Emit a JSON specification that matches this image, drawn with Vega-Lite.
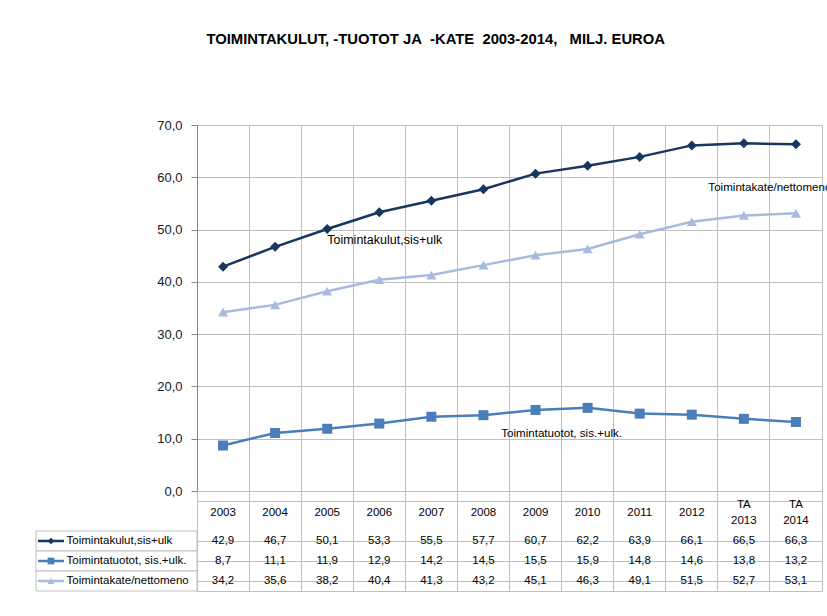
{
  "$schema": "https://vega.github.io/schema/vega-lite/v6.json",
  "padding": {"left": 35, "top": 31, "right": 6, "bottom": 20},
  "title": {
    "text": "TOIMINTAKULUT, -TUOTOT JA\u00a0 -KATE\u00a0 2003-2014,\u00a0\u00a0 MILJ. EUROA",
    "font": "Liberation Sans",
    "fontSize": 14.8,
    "fontWeight": "bold",
    "color": "#000000",
    "anchor": "middle",
    "dx": 2,
    "offset": 72
  },
  "config": {
    "font": "Liberation Sans",
    "locale": {"number": {"decimal": ",", "thousands": " ", "grouping": [3], "currency": ["", " €"]}},
    "view": {"stroke": "#BFBFBF"}
  },
  "datasets": {
    "d": [
      {"year": "2003", "series": "Toimintakulut,sis+ulk", "value": 42.9},
      {"year": "2004", "series": "Toimintakulut,sis+ulk", "value": 46.7},
      {"year": "2005", "series": "Toimintakulut,sis+ulk", "value": 50.1},
      {"year": "2006", "series": "Toimintakulut,sis+ulk", "value": 53.3},
      {"year": "2007", "series": "Toimintakulut,sis+ulk", "value": 55.5},
      {"year": "2008", "series": "Toimintakulut,sis+ulk", "value": 57.7},
      {"year": "2009", "series": "Toimintakulut,sis+ulk", "value": 60.7},
      {"year": "2010", "series": "Toimintakulut,sis+ulk", "value": 62.2},
      {"year": "2011", "series": "Toimintakulut,sis+ulk", "value": 63.9},
      {"year": "2012", "series": "Toimintakulut,sis+ulk", "value": 66.1},
      {"year": "TA\n2013", "series": "Toimintakulut,sis+ulk", "value": 66.5},
      {"year": "TA\n2014", "series": "Toimintakulut,sis+ulk", "value": 66.3},
      {"year": "2003", "series": "Toimintatuotot, sis.+ulk.", "value": 8.7},
      {"year": "2004", "series": "Toimintatuotot, sis.+ulk.", "value": 11.1},
      {"year": "2005", "series": "Toimintatuotot, sis.+ulk.", "value": 11.9},
      {"year": "2006", "series": "Toimintatuotot, sis.+ulk.", "value": 12.9},
      {"year": "2007", "series": "Toimintatuotot, sis.+ulk.", "value": 14.2},
      {"year": "2008", "series": "Toimintatuotot, sis.+ulk.", "value": 14.5},
      {"year": "2009", "series": "Toimintatuotot, sis.+ulk.", "value": 15.5},
      {"year": "2010", "series": "Toimintatuotot, sis.+ulk.", "value": 15.9},
      {"year": "2011", "series": "Toimintatuotot, sis.+ulk.", "value": 14.8},
      {"year": "2012", "series": "Toimintatuotot, sis.+ulk.", "value": 14.6},
      {"year": "TA\n2013", "series": "Toimintatuotot, sis.+ulk.", "value": 13.8},
      {"year": "TA\n2014", "series": "Toimintatuotot, sis.+ulk.", "value": 13.2},
      {"year": "2003", "series": "Toimintakate/nettomeno", "value": 34.2},
      {"year": "2004", "series": "Toimintakate/nettomeno", "value": 35.6},
      {"year": "2005", "series": "Toimintakate/nettomeno", "value": 38.2},
      {"year": "2006", "series": "Toimintakate/nettomeno", "value": 40.4},
      {"year": "2007", "series": "Toimintakate/nettomeno", "value": 41.3},
      {"year": "2008", "series": "Toimintakate/nettomeno", "value": 43.2},
      {"year": "2009", "series": "Toimintakate/nettomeno", "value": 45.1},
      {"year": "2010", "series": "Toimintakate/nettomeno", "value": 46.3},
      {"year": "2011", "series": "Toimintakate/nettomeno", "value": 49.1},
      {"year": "2012", "series": "Toimintakate/nettomeno", "value": 51.5},
      {"year": "TA\n2013", "series": "Toimintakate/nettomeno", "value": 52.7},
      {"year": "TA\n2014", "series": "Toimintakate/nettomeno", "value": 53.1}
    ]
  },
  "columns": 2,
  "spacing": 0,
  "bounds": "flush",
  "resolve": {"scale": {"x": "independent", "y": "independent"}},
  "concat": [
    {
      "width": 161,
      "height": 366,
      "view": {"stroke": null},
      "data": {"values": [{"a": 1}]},
      "mark": {"type": "point", "opacity": 0},
      "encoding": {}
    },
    {
      "width": 625,
      "height": 366,
      "data": {"name": "d"},
      "encoding": {
        "x": {
          "field": "year", "type": "nominal",
          "scale": {"type": "band", "domain": ["2003","2004","2005","2006","2007","2008","2009","2010","2011","2012","TA\n2013","TA\n2014"], "paddingInner": 0, "paddingOuter": 0},
          "axis": {"title": null, "labels": false, "ticks": false, "bandPosition": 0, "grid": true, "gridColor": "#BFBFBF", "domainColor": "#868686"}
        },
        "y": {
          "field": "value", "type": "quantitative",
          "scale": {"domain": [0, 70], "nice": false},
          "axis": {"title": null, "values": [0,10,20,30,40,50,60,70], "format": ".1f", "grid": true, "gridColor": "#BFBFBF", "domainColor": "#868686", "tickColor": "#868686", "tickSize": 6, "labelPadding": 9, "labelFontSize": 13, "labelColor": "#1a1a1a"}
        }
      },
      "layer": [
        {
          "mark": {"type": "line", "strokeWidth": 2.5},
          "encoding": {
            "color": {"field": "series", "type": "nominal", "scale": {"domain": ["Toimintakulut,sis+ulk", "Toimintatuotot, sis.+ulk.", "Toimintakate/nettomeno"], "range": ["#17375E", "#4A7EBB", "#A7BBDC"]}, "legend": null}
          }
        },
        {
          "mark": {"type": "point", "filled": true, "opacity": 1, "size": 100},
          "encoding": {
            "color": {"field": "series", "type": "nominal", "scale": {"domain": ["Toimintakulut,sis+ulk", "Toimintatuotot, sis.+ulk.", "Toimintakate/nettomeno"], "range": ["#17375E", "#4A7EBB", "#A7BBDC"]}, "legend": null},
            "shape": {"field": "series", "type": "nominal", "scale": {"domain": ["Toimintakulut,sis+ulk", "Toimintatuotot, sis.+ulk.", "Toimintakate/nettomeno"], "range": ["diamond", "square", "triangle-up"]}, "legend": null}
          }
        },
        {
          "data": {"values": [{"label": "Toimintakulut,sis+ulk", "year": "2005", "value": 48.1}]},
          "mark": {"type": "text", "align": "left", "fontSize": 12.5, "color": "#000000"},
          "encoding": {"text": {"field": "label"}}
        },
        {
          "data": {"values": [
            {"label": "Toimintakate/nettomeno", "year": "TA\n2014", "value": 57.9},
            {"label": "Toimintatuotot, sis.+ulk.", "year": "2010", "value": 10.9}
          ]},
          "mark": {"type": "text", "align": "center", "fontSize": 11.6, "color": "#000000"},
          "encoding": {
            "x": {"field": "year", "type": "nominal", "bandPosition": 0},
            "text": {"field": "label"}
          }
        }
      ]
    },
    {
      "width": 161,
      "height": 100,
      "view": {"stroke": null},
      "data": {"name": "d"},
      "transform": [{"filter": "datum.year === '2003'"}],
      "encoding": {
        "y": {"field": "series", "type": "nominal", "scale": {"domain": ["h1", "h2", "Toimintakulut,sis+ulk", "Toimintatuotot, sis.+ulk.", "Toimintakate/nettomeno"], "paddingInner": 0, "paddingOuter": 0}, "axis": null}
      },
      "layer": [
        {
          "mark": {"type": "rect", "fill": "#ffffff", "stroke": "#BFBFBF"},
          "encoding": {
            "x": {"datum": 0, "type": "quantitative", "scale": {"domain": [0, 1]}, "axis": null},
            "x2": {"datum": 1}
          }
        },
        {
          "mark": {"type": "rule", "strokeWidth": 2.5},
          "encoding": {
            "x": {"datum": 0.012, "type": "quantitative"},
            "x2": {"datum": 0.174},
            "color": {"field": "series", "type": "nominal", "scale": {"domain": ["Toimintakulut,sis+ulk", "Toimintatuotot, sis.+ulk.", "Toimintakate/nettomeno"], "range": ["#17375E", "#4A7EBB", "#A7BBDC"]}, "legend": null}
          }
        },
        {
          "mark": {"type": "point", "filled": true, "opacity": 1, "size": 45},
          "encoding": {
            "x": {"datum": 0.093, "type": "quantitative"},
            "color": {"field": "series", "type": "nominal", "scale": {"domain": ["Toimintakulut,sis+ulk", "Toimintatuotot, sis.+ulk.", "Toimintakate/nettomeno"], "range": ["#17375E", "#4A7EBB", "#A7BBDC"]}, "legend": null},
            "shape": {"field": "series", "type": "nominal", "scale": {"domain": ["Toimintakulut,sis+ulk", "Toimintatuotot, sis.+ulk.", "Toimintakate/nettomeno"], "range": ["diamond", "square", "triangle-up"]}, "legend": null}
          }
        },
        {
          "mark": {"type": "text", "align": "left", "fontSize": 11.5, "color": "#000000"},
          "encoding": {
            "x": {"datum": 0.19, "type": "quantitative"},
            "text": {"field": "series"}
          }
        }
      ]
    },
    {
      "width": 625,
      "height": 100,
      "data": {"name": "d"},
      "encoding": {
        "x": {
          "field": "year", "type": "nominal",
          "scale": {"type": "band", "domain": ["2003","2004","2005","2006","2007","2008","2009","2010","2011","2012","TA\n2013","TA\n2014"], "paddingInner": 0, "paddingOuter": 0},
          "axis": {"title": null, "labels": false, "ticks": false, "domain": false, "bandPosition": 0, "grid": true, "gridColor": "#BFBFBF"}
        }
      },
      "layer": [
        {
          "mark": {"type": "text", "fontSize": 11.5, "color": "#000000"},
          "encoding": {
            "y": {"field": "series", "type": "nominal", "scale": {"domain": ["h1", "h2", "Toimintakulut,sis+ulk", "Toimintatuotot, sis.+ulk.", "Toimintakate/nettomeno"], "paddingInner": 0, "paddingOuter": 0},
              "axis": {"title": null, "labels": false, "ticks": false, "domain": false, "bandPosition": 0, "grid": true, "gridColor": "#BFBFBF", "values": ["h1", "Toimintakulut,sis+ulk", "Toimintatuotot, sis.+ulk.", "Toimintakate/nettomeno"]}},
            "text": {"field": "value", "type": "quantitative", "format": ".1f"}
          }
        },
        {
          "transform": [{"filter": "datum.series === 'Toimintakulut,sis+ulk' && indexof(datum.year, 'TA') < 0"}],
          "mark": {"type": "text", "fontSize": 11.5, "color": "#000000", "dy": 12},
          "encoding": {
            "y": {"datum": "h1", "type": "nominal"},
            "text": {"field": "year"}
          }
        },
        {
          "transform": [{"filter": "datum.series === 'Toimintakulut,sis+ulk' && indexof(datum.year, 'TA') >= 0"}],
          "mark": {"type": "text", "fontSize": 11.5, "color": "#000000", "lineBreak": "\n", "lineHeight": 16, "dy": 4},
          "encoding": {
            "y": {"datum": "h1", "type": "nominal"},
            "text": {"field": "year"}
          }
        }
      ]
    }
  ]
}
